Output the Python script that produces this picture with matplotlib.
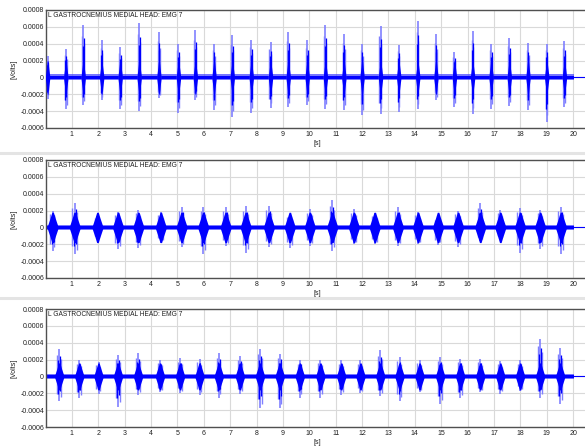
import matplotlib
matplotlib.use("Agg")
import matplotlib.pyplot as plt
from matplotlib.lines import Line2D

plt.rcParams['font.family'] = ['Liberation Sans', 'DejaVu Sans']

# Chart text
title = "L GASTROCNEMIUS MEDIAL HEAD: EMG 7"
x_label = "[s]"
y_label = "[Volts]"
x_ticks = list(range(1, 21))
y_ticks = [0.0008, 0.0006, 0.0004, 0.0002, 0.0, -0.0002, -0.0004, -0.0006]
y_tick_labels = ["0.0008", "0.0006", "0.0004", "0.0002", "0",
                 "-0.0002", "-0.0004", "-0.0006"]

# Record length [s]
record_end = 20.05

# Panel 1: burst times [s], peak positive and negative amplitude [mV]
p1_times = [0.08, 0.77, 1.43, 2.13, 2.83, 3.55, 4.30, 5.04, 5.68, 6.39,
            7.08, 7.80, 8.53, 9.20, 9.92, 10.61, 11.31, 12.00, 12.70, 13.39,
            14.11, 14.80, 15.50, 16.19, 16.89, 17.58, 18.29, 19.00, 19.67]
p1_hi = [0.25, 0.34, 0.62, 0.44, 0.36, 0.64, 0.54, 0.40, 0.56, 0.40,
         0.50, 0.45, 0.42, 0.54, 0.44, 0.62, 0.51, 0.40, 0.61, 0.39,
         0.67, 0.51, 0.30, 0.55, 0.40, 0.47, 0.41, 0.40, 0.43]
p1_lo = [-0.25, -0.38, -0.33, -0.27, -0.38, -0.40, -0.24, -0.42, -0.27, -0.39,
         -0.47, -0.42, -0.36, -0.35, -0.33, -0.37, -0.39, -0.45, -0.43, -0.41,
         -0.37, -0.27, -0.35, -0.43, -0.37, -0.34, -0.39, -0.53, -0.35]

# Panel 2
p2_times = [0.27, 1.11, 1.97, 2.75, 3.52, 4.37, 5.16, 5.98, 6.83, 7.59,
            8.47, 9.26, 10.02, 10.87, 11.69, 12.48, 13.36, 14.12, 14.88, 15.64,
            16.48, 17.24, 17.99, 18.75, 19.54]
p2_hi = [0.20, 0.29, 0.14, 0.18, 0.21, 0.18, 0.24, 0.24, 0.24, 0.25,
         0.26, 0.16, 0.22, 0.32, 0.22, 0.17, 0.24, 0.18, 0.11, 0.20,
         0.29, 0.21, 0.23, 0.21, 0.24]
p2_lo = [-0.28, -0.32, -0.14, -0.26, -0.24, -0.18, -0.23, -0.32, -0.22, -0.30,
         -0.23, -0.24, -0.22, -0.28, -0.20, -0.20, -0.22, -0.20, -0.21, -0.23,
         -0.16, -0.14, -0.30, -0.26, -0.32]

# Panel 3
p3_times = [0.52, 1.28, 2.01, 2.75, 3.51, 4.34, 5.10, 5.84, 6.57, 7.37,
            8.13, 8.88, 9.64, 10.42, 11.21, 11.94, 12.69, 13.42, 14.18, 14.96,
            15.72, 16.48, 17.24, 17.99, 18.75, 19.51]
p3_hi = [0.32, 0.19, 0.17, 0.26, 0.28, 0.20, 0.22, 0.21, 0.28, 0.24,
         0.33, 0.27, 0.19, 0.20, 0.19, 0.19, 0.31, 0.23, 0.20, 0.23,
         0.21, 0.21, 0.18, 0.19, 0.45, 0.34]
p3_lo = [-0.29, -0.26, -0.21, -0.36, -0.22, -0.19, -0.20, -0.22, -0.25, -0.21,
         -0.38, -0.38, -0.25, -0.25, -0.22, -0.20, -0.23, -0.29, -0.19, -0.33,
         -0.26, -0.19, -0.21, -0.17, -0.25, -0.33]

# Per panel: dark burst body amplitude [mV], burst half width [s],
# baseline noise core and fuzz [mV]
body_amp = [0.20, 0.18, 0.16]
half_width = [0.08, 0.20, 0.17]
base_core = [0.02, 0.015, 0.015]
base_fuzz = [0.035, 0.025, 0.025]

panels = [(p1_times, p1_hi, p1_lo), (p2_times, p2_hi, p2_lo),
          (p3_times, p3_hi, p3_lo)]

blue = "#0000ff"
mid_blue = "#3c3cff"
light_blue = "#8080ff"

fig = plt.figure(figsize=(5.85, 4.47), dpi=100)

# panel boxes in figure pixels (top, bottom)
boxes = [(10, 128), (160, 278), (309, 427)]
W, H = 585.0, 447.0
left = 45.5

for k, (times, hi, lo) in enumerate(panels):
    top, bot = boxes[k]
    ax = fig.add_axes([left / W, 1 - bot / H, 1 - left / W, (bot - top) / H])

    # baseline noise over the record, flat line after it
    ax.fill_between([0, record_end], -base_fuzz[k] * 1e-3, base_fuzz[k] * 1e-3,
                    color=mid_blue, alpha=0.7, lw=0, zorder=2)
    ax.fill_between([0, record_end], -base_core[k] * 1e-3, base_core[k] * 1e-3,
                    color=blue, lw=0, zorder=2)
    ax.plot([record_end, 21], [0, 0], color=blue, lw=0.8, zorder=2)

    for t, h, l in zip(times, hi, lo):
        w = half_width[k]
        b = body_amp[k] * 1e-3
        # light peak excursions spread over the burst
        ax.vlines(t, l * 1e-3, h * 1e-3, color=light_blue, lw=1.2, zorder=3)
        ax.vlines([t - w * 0.5, t + w * 0.35], [l * 0.7e-3, l * 0.85e-3],
                  [h * 0.8e-3, h * 0.65e-3], color=light_blue, lw=1.0, zorder=3)
        # dark burst body
        xs = [t - w, t - w * 0.5, t - w * 0.15, t + w * 0.15, t + w * 0.5, t + w]
        env = [base_core[k] * 1e-3, b * 0.6, b, b, b * 0.6, base_core[k] * 1e-3]
        ax.fill_between(xs, [-e for e in env], env, color=blue, lw=0, zorder=4)
        ax.vlines([t - w * 0.2, t + w * 0.2], [l * 0.7e-3, l * 0.6e-3],
                  [h * 0.6e-3, h * 0.75e-3], color=blue, lw=0.9, zorder=4)

    ax.set_xlim(0, 20.45)
    ax.set_ylim(-0.0006, 0.0008)
    ax.set_xticks(x_ticks)
    ax.set_xticklabels([str(v) for v in x_ticks])
    ax.set_yticks(y_ticks)
    ax.set_yticklabels(y_tick_labels)
    ax.tick_params(length=0, labelsize=5, colors="#202020")
    ax.tick_params(axis="x", pad=2.5)
    ax.tick_params(axis="y", pad=1)
    ax.grid(True, color="#d9d9d9", lw=0.8, zorder=0)
    ax.set_axisbelow(True)

    for side in ["top", "left", "bottom"]:
        ax.spines[side].set_color("#505050")
        ax.spines[side].set_linewidth(1.0)
    ax.spines["right"].set_visible(False)

    ax.text(0.004, 0.985, title, transform=ax.transAxes, fontsize=4.8,
            ha="left", va="top", color="#202020")

    ax.set_ylabel(y_label, fontsize=5, color="#202020")
    ax.yaxis.set_label_coords(-0.051, 0.5)
    ax.set_xlabel(x_label, fontsize=5, color="#202020")
    ax.xaxis.set_label_coords((317 - left) / (W - left), -0.10)

# light separators between panels
for y in [153, 298]:
    fig.add_artist(Line2D([0, 1], [1 - y / H, 1 - y / H], color="#e4e4e4",
                          lw=2.2, transform=fig.transFigure))

fig.savefig("out.png", dpi=100)
